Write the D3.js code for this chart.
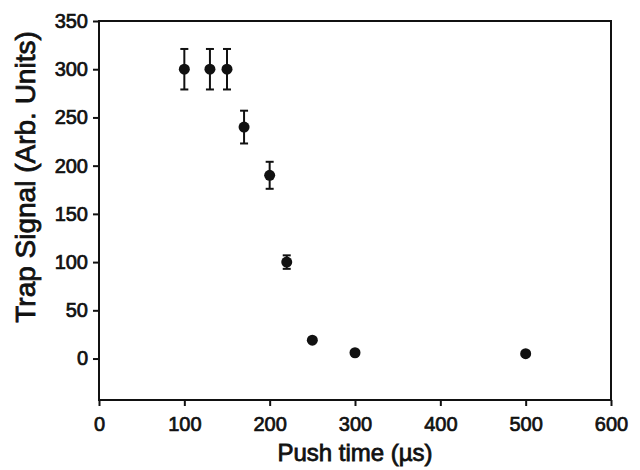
<!DOCTYPE html>
<html>
<head>
<meta charset="utf-8">
<script src="https://cdn.jsdelivr.net/npm/d3@7"></script>
<style>
  html, body { margin: 0; padding: 0; background: #fff; }
  svg { display: block; font-family: "Liberation Sans", Arial, sans-serif; }
</style>
</head>
<body>
<div id="chart"></div>
<script>
// data
const pushTime = [100, 130, 150, 170, 200, 220, 250, 300, 500];
const trapSignal = [300, 300, 300, 240, 190, 100, 19, 6, 5];
const signalErr = [21, 21, 21, 17, 14, 7, 0, 0, 0];
const xTicks = [0, 100, 200, 300, 400, 500, 600];
const yTicks = [0, 50, 100, 150, 200, 250, 300, 350];

function drawChart() {
  const width = 640;
  const height = 470;
  const margin = { top: 21, right: 29, bottom: 70, left: 99 };

  const svg = d3.select("#chart")
    .append("svg")
    .attr("width", width)
    .attr("height", height);

  const x = d3.scaleLinear()
    .domain([0, 600])
    .range([margin.left, width - margin.right]);

  const y = d3.scaleLinear()
    .domain([-43, 350])
    .range([height - margin.bottom, margin.top]);

  const points = pushTime.map((t, i) => ({ t, v: trapSignal[i], e: signalErr[i] }));

  // axes (domain line replaced by the frame below)
  const xAxis = svg.append("g")
    .attr("transform", `translate(0,${height - margin.bottom})`)
    .call(d3.axisBottom(x).tickValues(xTicks).tickSize(6).tickPadding(11));

  const yAxis = svg.append("g")
    .attr("transform", `translate(${margin.left},0)`)
    .call(d3.axisLeft(y).tickValues(yTicks).tickSize(6).tickPadding(5));

  [xAxis, yAxis].forEach(a => {
    a.select(".domain").remove();
    a.selectAll("line").attr("stroke", "#111").attr("stroke-width", 2);
    a.selectAll("text")
      .attr("fill", "#111")
      .attr("stroke", "#111")
      .attr("stroke-width", 0.7)
      .style("font-size", "20px");
  });

  // frame
  svg.append("rect")
    .attr("x", margin.left)
    .attr("y", margin.top)
    .attr("width", width - margin.left - margin.right)
    .attr("height", height - margin.top - margin.bottom)
    .attr("fill", "none")
    .attr("stroke", "#111")
    .attr("stroke-width", 2);

  // error bars
  const bars = svg.append("g")
    .selectAll("g")
    .data(points.filter(d => d.e > 0))
    .join("g")
    .attr("stroke", "#111")
    .attr("stroke-width", 2);

  bars.append("line")
    .attr("x1", d => x(d.t)).attr("x2", d => x(d.t))
    .attr("y1", d => y(d.v - d.e)).attr("y2", d => y(d.v + d.e));
  bars.append("line")
    .attr("x1", d => x(d.t) - 4).attr("x2", d => x(d.t) + 4)
    .attr("y1", d => y(d.v + d.e)).attr("y2", d => y(d.v + d.e));
  bars.append("line")
    .attr("x1", d => x(d.t) - 4).attr("x2", d => x(d.t) + 4)
    .attr("y1", d => y(d.v - d.e)).attr("y2", d => y(d.v - d.e));

  // markers
  svg.append("g")
    .selectAll("circle")
    .data(points)
    .join("circle")
    .attr("cx", d => x(d.t))
    .attr("cy", d => y(d.v))
    .attr("r", 5.5)
    .attr("fill", "#111");

  // axis titles
  svg.append("text")
    .attr("x", (margin.left + width - margin.right) / 2)
    .attr("y", 461)
    .attr("text-anchor", "middle")
    .attr("fill", "#111")
    .attr("stroke", "#111")
    .attr("stroke-width", 0.8)
    .style("font-size", "24px")
    .text("Push time (µs)");

  svg.append("text")
    .attr("transform", `translate(35,177) rotate(-90)`)
    .attr("text-anchor", "middle")
    .attr("fill", "#111")
    .attr("stroke", "#111")
    .attr("stroke-width", 0.8)
    .style("font-size", "28px")
    .text("Trap Signal (Arb. Units)");
}
drawChart();
</script>
</body>
</html>
